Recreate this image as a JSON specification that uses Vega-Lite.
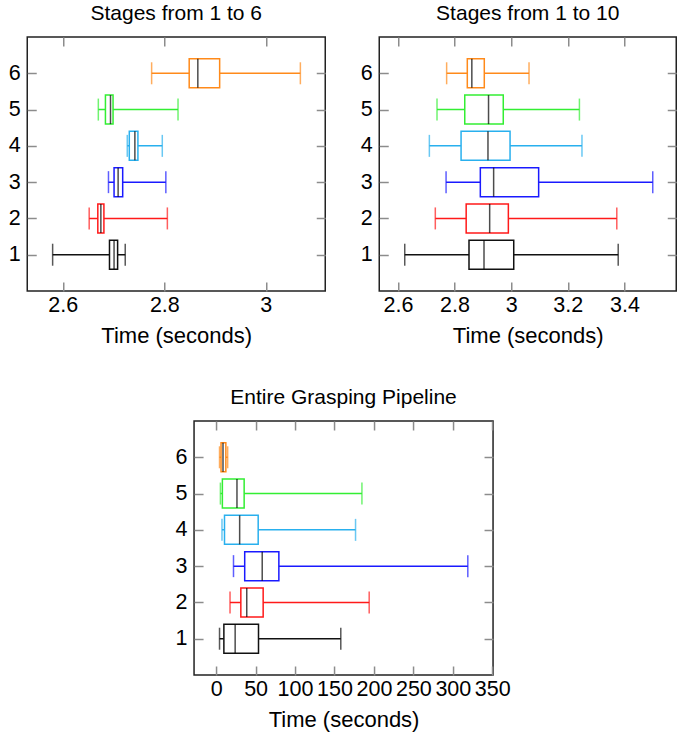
{
  "$schema": "https://vega.github.io/schema/vega-lite/v6.json",
  "background": "white",
  "padding": {"left": 7, "top": 2, "right": 0, "bottom": 0},
  "autosize": {"type": "pad"},
  "config": {
    "font": "Liberation Sans",
    "view": {"stroke": "#222222", "strokeWidth": 1.5},
    "axis": {
      "labelFont": "Liberation Sans", "labelFontSize": 21.5, "labelColor": "#000000",
      "titleFont": "Liberation Sans", "titleFontSize": 22, "titleFontWeight": "normal", "titleColor": "#000000",
      "tickColor": "#8c8c8c", "tickSize": -9, "tickWidth": 1.5, "domain": false, "grid": false,
      "labelPadding": 12, "titlePadding": 10, "labelOverlap": false, "labelBound": false, "labelFlush": false
    },
    "axisY": {"labelPadding": 16},
    "title": {"font": "Liberation Sans", "fontSize": 21, "fontWeight": "normal", "color": "#000000", "baseline": "alphabetic", "offset": 12}
  },
  "datasets": {
    "d1": [
      {"stage": 1, "min": 2.580, "q1": 2.692, "median": 2.701, "q3": 2.708, "max": 2.723},
      {"stage": 2, "min": 2.652, "q1": 2.669, "median": 2.675, "q3": 2.681, "max": 2.806},
      {"stage": 3, "min": 2.690, "q1": 2.701, "median": 2.709, "q3": 2.718, "max": 2.803},
      {"stage": 4, "min": 2.727, "q1": 2.731, "median": 2.742, "q3": 2.748, "max": 2.796},
      {"stage": 5, "min": 2.670, "q1": 2.684, "median": 2.694, "q3": 2.699, "max": 2.827},
      {"stage": 6, "min": 2.775, "q1": 2.849, "median": 2.866, "q3": 2.909, "max": 3.068}
    ],
    "d2": [
      {"stage": 1, "min": 2.624, "q1": 2.851, "median": 2.904, "q3": 3.009, "max": 3.378},
      {"stage": 2, "min": 2.732, "q1": 2.841, "median": 2.924, "q3": 2.990, "max": 3.373},
      {"stage": 3, "min": 2.770, "q1": 2.891, "median": 2.938, "q3": 3.097, "max": 3.500},
      {"stage": 4, "min": 2.711, "q1": 2.823, "median": 2.918, "q3": 2.996, "max": 3.250},
      {"stage": 5, "min": 2.738, "q1": 2.836, "median": 2.920, "q3": 2.972, "max": 3.241},
      {"stage": 6, "min": 2.772, "q1": 2.845, "median": 2.861, "q3": 2.905, "max": 3.063}
    ],
    "d3": [
      {"stage": 1, "min": 4.3, "q1": 9.8, "median": 24.1, "q3": 53.7, "max": 158},
      {"stage": 2, "min": 17.6, "q1": 31.3, "median": 38.8, "q3": 59.6, "max": 194},
      {"stage": 3, "min": 22, "q1": 36.2, "median": 58.4, "q3": 79.5, "max": 319},
      {"stage": 4, "min": 7.4, "q1": 10.6, "median": 29.8, "q3": 53.3, "max": 176.7},
      {"stage": 5, "min": 5.4, "q1": 7.9, "median": 26.4, "q3": 35.5, "max": 184.8},
      {"stage": 6, "min": 4.3, "q1": 6.2, "median": 8.7, "q3": 12.3, "max": 14.6}
    ]
  },
  "vconcat": [
    {
      "hconcat": [
        {
          "width": 298, "height": 254,
          "title": "Stages from 1 to 6",
          "data": {"name": "d1"},
          "resolve": {"axis": {"x": "independent", "y": "independent"}},
          "layer": [
            {"mark": {"type": "rule", "strokeWidth": 1.5},
             "encoding": {
               "x": {"field": "min", "type": "quantitative", "scale": {"domain": [2.53, 3.117], "nice": false, "zero": false, "padding": 0}, "axis": {"values": [2.6, 2.8, 3.0], "format": "~g", "title": "Time (seconds)"}},
               "x2": {"field": "max"},
               "y": {"field": "stage", "type": "quantitative", "scale": {"domain": [0, 7], "nice": false, "zero": false, "padding": 0}, "axis": {"values": [1, 2, 3, 4, 5, 6], "title": null}},
               "color": {"field": "stage", "type": "nominal", "scale": {"domain": [1, 2, 3, 4, 5, 6], "range": ["#111111", "#ff1a1a", "#1a1aff", "#29b0ee", "#33ee33", "#ff8a1a"]}, "legend": null}}},
            {"mark": {"type": "bar", "orient": "horizontal", "size": 29, "fill": "white", "strokeWidth": 1.5},
             "encoding": {
               "x": {"field": "q1", "type": "quantitative", "axis": null},
               "x2": {"field": "q3"},
               "y": {"field": "stage", "type": "quantitative", "axis": null},
               "stroke": {"field": "stage", "type": "nominal", "scale": {"domain": [1, 2, 3, 4, 5, 6], "range": ["#111111", "#ff1a1a", "#1a1aff", "#29b0ee", "#33ee33", "#ff8a1a"]}, "legend": null}}},
            {"mark": {"type": "tick", "orient": "vertical", "size": 29, "thickness": 1.5, "color": "#000000"},
             "encoding": {
               "x": {"field": "median", "type": "quantitative", "axis": null},
               "y": {"field": "stage", "type": "quantitative", "axis": null}}},
            {"mark": {"type": "tick", "orient": "vertical", "size": 22, "thickness": 1.5},
             "encoding": {
               "x": {"field": "min", "type": "quantitative", "axis": {"orient": "top", "values": [2.6, 2.8, 3.0], "labels": false, "title": null}},
               "y": {"field": "stage", "type": "quantitative", "axis": {"orient": "right", "values": [1, 2, 3, 4, 5, 6], "labels": false, "title": null}},
               "color": {"field": "stage", "type": "nominal", "legend": null}}},
            {"mark": {"type": "tick", "orient": "vertical", "size": 22, "thickness": 1.5},
             "encoding": {
               "x": {"field": "max", "type": "quantitative", "axis": null},
               "y": {"field": "stage", "type": "quantitative", "axis": null},
               "color": {"field": "stage", "type": "nominal", "legend": null}}}
          ]
        },
        {
          "width": 297, "height": 254,
          "title": "Stages from 1 to 10",
          "data": {"name": "d2"},
          "resolve": {"axis": {"x": "independent", "y": "independent"}},
          "layer": [
            {"mark": {"type": "rule", "strokeWidth": 1.5},
             "encoding": {
               "x": {"field": "min", "type": "quantitative", "scale": {"domain": [2.534, 3.583], "nice": false, "zero": false, "padding": 0}, "axis": {"values": [2.6, 2.8, 3.0, 3.2, 3.4], "format": "~g", "title": "Time (seconds)"}},
               "x2": {"field": "max"},
               "y": {"field": "stage", "type": "quantitative", "scale": {"domain": [0, 7], "nice": false, "zero": false, "padding": 0}, "axis": {"values": [1, 2, 3, 4, 5, 6], "title": null}},
               "color": {"field": "stage", "type": "nominal", "scale": {"domain": [1, 2, 3, 4, 5, 6], "range": ["#111111", "#ff1a1a", "#1a1aff", "#29b0ee", "#33ee33", "#ff8a1a"]}, "legend": null}}},
            {"mark": {"type": "bar", "orient": "horizontal", "size": 29, "fill": "white", "strokeWidth": 1.5},
             "encoding": {
               "x": {"field": "q1", "type": "quantitative", "axis": null},
               "x2": {"field": "q3"},
               "y": {"field": "stage", "type": "quantitative", "axis": null},
               "stroke": {"field": "stage", "type": "nominal", "scale": {"domain": [1, 2, 3, 4, 5, 6], "range": ["#111111", "#ff1a1a", "#1a1aff", "#29b0ee", "#33ee33", "#ff8a1a"]}, "legend": null}}},
            {"mark": {"type": "tick", "orient": "vertical", "size": 29, "thickness": 1.5, "color": "#000000"},
             "encoding": {
               "x": {"field": "median", "type": "quantitative", "axis": null},
               "y": {"field": "stage", "type": "quantitative", "axis": null}}},
            {"mark": {"type": "tick", "orient": "vertical", "size": 22, "thickness": 1.5},
             "encoding": {
               "x": {"field": "min", "type": "quantitative", "axis": {"orient": "top", "values": [2.6, 2.8, 3.0, 3.2, 3.4], "labels": false, "title": null}},
               "y": {"field": "stage", "type": "quantitative", "axis": {"orient": "right", "values": [1, 2, 3, 4, 5, 6], "labels": false, "title": null}},
               "color": {"field": "stage", "type": "nominal", "legend": null}}},
            {"mark": {"type": "tick", "orient": "vertical", "size": 22, "thickness": 1.5},
             "encoding": {
               "x": {"field": "max", "type": "quantitative", "axis": null},
               "y": {"field": "stage", "type": "quantitative", "axis": null},
               "color": {"field": "stage", "type": "nominal", "legend": null}}}
          ]
        }
      ],
      "spacing": 32
    },
    {
      "width": 299, "height": 254,
      "title": "Entire Grasping Pipeline",
      "data": {"name": "d3"},
      "resolve": {"axis": {"x": "independent", "y": "independent"}},
      "layer": [
        {"mark": {"type": "rule", "strokeWidth": 1.5},
         "encoding": {
           "x": {"field": "min", "type": "quantitative", "scale": {"domain": [-28, 351], "nice": false, "zero": false, "padding": 0}, "axis": {"values": [0, 50, 100, 150, 200, 250, 300, 350], "title": "Time (seconds)"}},
           "x2": {"field": "max"},
           "y": {"field": "stage", "type": "quantitative", "scale": {"domain": [0, 7], "nice": false, "zero": false, "padding": 0}, "axis": {"values": [1, 2, 3, 4, 5, 6], "title": null}},
           "color": {"field": "stage", "type": "nominal", "scale": {"domain": [1, 2, 3, 4, 5, 6], "range": ["#111111", "#ff1a1a", "#1a1aff", "#29b0ee", "#33ee33", "#ff8a1a"]}, "legend": null}}},
        {"mark": {"type": "bar", "orient": "horizontal", "size": 29, "fill": "white", "strokeWidth": 1.5},
         "encoding": {
           "x": {"field": "q1", "type": "quantitative", "axis": null},
           "x2": {"field": "q3"},
           "y": {"field": "stage", "type": "quantitative", "axis": null},
           "stroke": {"field": "stage", "type": "nominal", "scale": {"domain": [1, 2, 3, 4, 5, 6], "range": ["#111111", "#ff1a1a", "#1a1aff", "#29b0ee", "#33ee33", "#ff8a1a"]}, "legend": null}}},
        {"mark": {"type": "tick", "orient": "vertical", "size": 29, "thickness": 1.5, "color": "#000000"},
         "encoding": {
           "x": {"field": "median", "type": "quantitative", "axis": null},
           "y": {"field": "stage", "type": "quantitative", "axis": null}}},
        {"mark": {"type": "tick", "orient": "vertical", "size": 22, "thickness": 1.5},
         "encoding": {
           "x": {"field": "min", "type": "quantitative", "axis": {"orient": "top", "values": [0, 50, 100, 150, 200, 250, 300, 350], "labels": false, "title": null}},
           "y": {"field": "stage", "type": "quantitative", "axis": {"orient": "right", "values": [1, 2, 3, 4, 5, 6], "labels": false, "title": null}},
           "color": {"field": "stage", "type": "nominal", "legend": null}}},
        {"mark": {"type": "tick", "orient": "vertical", "size": 22, "thickness": 1.5},
         "encoding": {
           "x": {"field": "max", "type": "quantitative", "axis": null},
           "y": {"field": "stage", "type": "quantitative", "axis": null},
           "color": {"field": "stage", "type": "nominal", "legend": null}}}
      ]
    }
  ],
  "spacing": 38,
  "center": true
}
